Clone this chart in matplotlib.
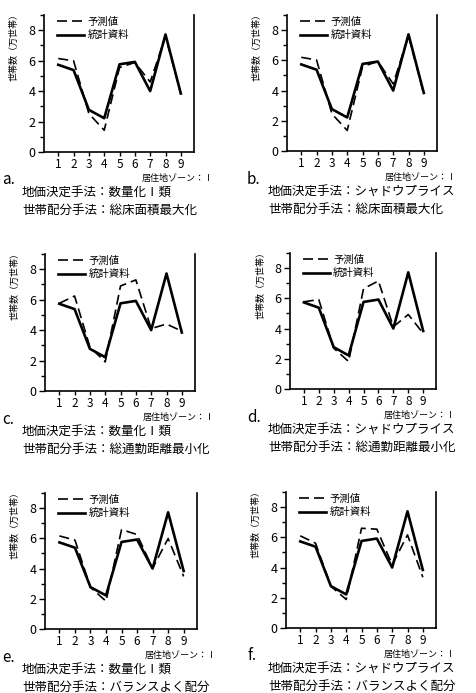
import matplotlib
matplotlib.use("Agg")
import matplotlib.pyplot as plt
from matplotlib.ticker import MultipleLocator

plt.rcParams['font.family'] = ['Noto Sans CJK JP', 'DejaVu Sans']

zones = [1, 2, 3, 4, 5, 6, 7, 8, 9]
statistics = [5.73, 5.38, 2.77, 2.22, 5.76, 5.92, 4.0, 7.72, 3.84]

pred_a = [6.14, 5.99, 2.52, 1.43, 5.55, 5.88, 4.6, 7.6, 3.84]
pred_b = [6.2, 6.02, 2.46, 1.36, 5.58, 5.93, 4.44, 7.63, 3.78]
pred_c = [5.76, 6.24, 2.9, 1.91, 6.9, 7.3, 4.1, 4.4, 3.93]
pred_d = [5.77, 5.92, 2.7, 1.82, 6.64, 7.15, 4.12, 4.93, 3.68]
pred_e = [6.16, 5.88, 2.75, 1.84, 6.58, 6.25, 4.02, 5.99, 3.48]
pred_f = [6.1, 5.61, 2.76, 1.89, 6.6, 6.54, 4.19, 6.16, 3.36]

letters = ['a.', 'b.', 'c.', 'd.', 'e.', 'f.']
method_land = ['地価決定手法：数量化Ⅰ類', '地価決定手法：シャドウプライス'] * 3
method_alloc = ['世帯配分手法：総床面積最大化'] * 2 + ['世帯配分手法：総通勤距離最小化'] * 2 + ['世帯配分手法：バランスよく配分'] * 2
preds = [pred_a, pred_b, pred_c, pred_d, pred_e, pred_f]

legend_pred = '予測値'
legend_stat = '統計資料'
ylabel = '世帯数（万世帯）'
xlabel = '居住地ゾーン：Ⅰ'

W, H = 477, 693
fig = plt.figure(figsize=(W / 100, H / 100), dpi=100)

# axes boxes in pixels: left, top, right, bottom
boxes = [
    (44, 15, 194, 152),
    (287, 15, 437, 151),
    (45, 254, 195, 391),
    (290, 253, 436, 389),
    (45, 493, 197, 629),
    (286, 492, 436, 628),
]

for i, (l, t, r, b) in enumerate(boxes):
    ax = fig.add_axes([l / W, 1 - b / H, (r - l) / W, (b - t) / H])
    ax.plot(zones, preds[i], color='black', lw=1.2, ls=(0, (6, 3)), label=legend_pred)
    ax.plot(zones, statistics, color='black', lw=1.9, label=legend_stat)
    ax.set_xlim(0.07, 9.86)
    ax.set_ylim(0, 9)
    ax.spines['top'].set_visible(False)
    for s in ['left', 'right', 'bottom']:
        ax.spines[s].set_linewidth(1.2)
    ax.set_xticks(zones)
    ax.yaxis.set_major_locator(MultipleLocator(2))
    ax.yaxis.set_minor_locator(MultipleLocator(1))
    ax.tick_params(axis='y', which='major', direction='out', length=4, width=1, labelsize=9, pad=2)
    ax.tick_params(axis='y', which='minor', direction='out', length=3, width=1)
    ax.tick_params(axis='x', direction='out', length=3, width=1, labelsize=8.5, pad=1.5)
    ax.legend(loc='upper left', bbox_to_anchor=(0.06, 1.02), frameon=False, fontsize=7.5,
              handlelength=2.6, handletextpad=0.3, labelspacing=0.35, borderaxespad=0)
    ax.set_ylabel(ylabel, fontsize=6.5, labelpad=2)
    ax.yaxis.set_label_coords(-0.17, 0.78)
    # x label at lower right, below the tick labels
    fig.text((r + 20) / W, 1 - (b + 26) / H, xlabel, fontsize=6.5, ha='right', va='center')
    # caption
    lx = 2 if i % 2 == 0 else 247
    tx = 22 if i % 2 == 0 else 268
    fig.text(lx / W, 1 - (b + 28) / H, letters[i], fontsize=11, ha='left', va='center')
    fig.text(tx / W, 1 - (b + 41) / H, method_land[i], fontsize=9, ha='left', va='center')
    fig.text(tx / W, 1 - (b + 58) / H, method_alloc[i], fontsize=9, ha='left', va='center')

fig.savefig('out.png', dpi=100)
